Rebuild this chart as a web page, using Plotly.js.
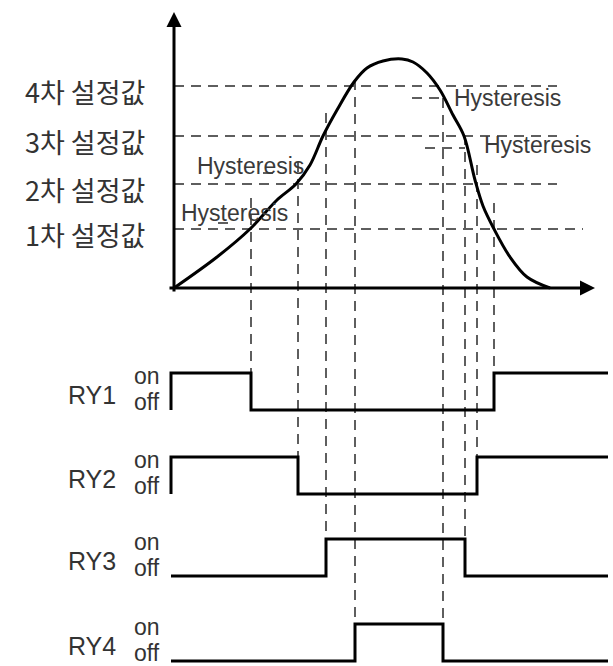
<!DOCTYPE html>
<html>
<head>
<meta charset="utf-8">
<script src="https://cdn.plot.ly/plotly-3.0.1.min.js"></script>
<style>html,body{margin:0;padding:0;background:#fff;}#chart{width:613px;height:666px;}</style>
</head>
<body>
<div id="chart"></div>
<script>
// ---- data (time t, value v) ----
const curveT = [0, 43, 76, 103, 122, 136, 149, 163, 180, 193, 209, 228, 239, 253, 266, 279, 290, 301, 309, 320, 336, 353, 376];
const curveV = [0, 31, 59, 88, 104, 123, 152, 178, 206, 220, 227, 229, 226, 215, 198, 173, 152, 108, 82, 59, 31, 11, 0];

const levelValues = [59, 104, 152, 202];
const levelLabels = ['1차 설정값', '2차 설정값', '3차 설정값', '4차 설정값'];
const levelEndT = [409, 383, 383, 383];

const relayNames = ['RY1', 'RY2', 'RY3', 'RY4'];
const ry1T = [-3, -3, 77, 320, 434];
const ry1S = [0, 1, 0, 1, 1];
const ry2T = [-3, -3, 124, 303, 434];
const ry2S = [0, 1, 0, 1, 1];
const ry3T = [-3, 152, 291, 434];
const ry3S = [0, 1, 0, 0];
const ry4T = [-3, 181, 269, 434];
const ry4S = [0, 1, 0, 0];

// switching guides: time, top value on curve side, relay index they reach
const switchT = [77, 124, 152, 181, 269, 291, 303, 320];
const switchTopV = [90, 126, 175, 208, 190, 153, 123, 85];
const switchRelay = [0, 1, 2, 3, 3, 2, 1, 0];

// hysteresis marks
const hystV = [190, 140, 115, 65];
const hystT0 = [238, 251, 89, 44];
const hystT1 = [272, 291, 102, 56];
const hystLabelT = [278, 308, 21, 5];
const hystLabelV = [190, 143, 122, 75];
const hystText = 'Hysteresis';

// ---- layout constants ----
const rowOn = [-85, -169, -251, -336];
const rowAmp = 37;
const relaysT = [ry1T, ry2T, ry3T, ry4T];
const relaysS = [ry1S, ry2S, ry3S, ry4S];

const dashStyle = {color: '#5e5e5e', width: 2, dash: '10px,7px'};
const traces = [];

levelValues.forEach((v, i) => {
  traces.push({x: [0, levelEndT[i]], y: [v, v], mode: 'lines', line: dashStyle, hoverinfo: 'skip'});
});
hystV.forEach((v, i) => {
  traces.push({x: [hystT0[i], hystT1[i]], y: [v, v], mode: 'lines', line: dashStyle, hoverinfo: 'skip'});
});
switchT.forEach((t, i) => {
  traces.push({x: [t, t], y: [switchTopV[i], rowOn[switchRelay[i]]], mode: 'lines', line: dashStyle, hoverinfo: 'skip'});
});
traces.push({x: curveT, y: curveV, mode: 'lines', line: {color: '#000', width: 3, shape: 'spline', smoothing: 1}, hoverinfo: 'skip'});
relaysT.forEach((ts, k) => {
  traces.push({
    x: ts,
    y: relaysS[k].map(s => rowOn[k] - (1 - s) * rowAmp),
    mode: 'lines', line: {color: '#000', width: 3, shape: 'hv'}, hoverinfo: 'skip'
  });
});

const annotations = [];
annotations.push({x: 0, y: 276, ax: 0, ay: -5, xref: 'x', yref: 'y', axref: 'x', ayref: 'y', text: '', showarrow: true, arrowhead: 2, arrowsize: 1, arrowwidth: 3, arrowcolor: '#000'});
annotations.push({x: 421, y: 0, ax: -6, ay: 0, xref: 'x', yref: 'y', axref: 'x', ayref: 'y', text: '', showarrow: true, arrowhead: 2, arrowsize: 1, arrowwidth: 3, arrowcolor: '#000'});

const kFont = {family: 'Noto Sans CJK KR, Liberation Sans, sans-serif', size: 27, color: '#333'};
levelValues.forEach((v, i) => {
  annotations.push({x: -27, y: v, xref: 'x', yref: 'y', text: levelLabels[i], showarrow: false, xanchor: 'right', yanchor: 'middle', yshift: -5, font: kFont});
});
const hFont = {family: 'Liberation Sans, Arial, sans-serif', size: 23, color: '#3a3a3a'};
hystLabelT.forEach((t, i) => {
  annotations.push({x: t, y: hystLabelV[i], xref: 'x', yref: 'y', text: hystText, showarrow: false, xanchor: 'left', yanchor: 'middle', font: hFont});
});
const rFont = {family: 'Liberation Sans, Arial, sans-serif', size: 25, color: '#333'};
const oFont = {family: 'Liberation Sans, Arial, sans-serif', size: 23, color: '#333'};
relayNames.forEach((n, k) => {
  annotations.push({x: -108, y: rowOn[k] - 22, xref: 'x', yref: 'y', text: n, showarrow: false, xanchor: 'left', yanchor: 'middle', font: rFont});
  annotations.push({x: -42, y: rowOn[k] - 3, xref: 'x', yref: 'y', text: 'on', showarrow: false, xanchor: 'left', yanchor: 'middle', font: oFont});
  annotations.push({x: -42, y: rowOn[k] - 29, xref: 'x', yref: 'y', text: 'off', showarrow: false, xanchor: 'left', yanchor: 'middle', font: oFont});
});

const layout = {
  width: 613, height: 666,
  margin: {l: 0, r: 0, t: 0, b: 0, pad: 0},
  paper_bgcolor: '#fff', plot_bgcolor: '#fff',
  showlegend: false,
  xaxis: {range: [-174, 439], visible: false, fixedrange: true},
  yaxis: {range: [-378, 288], visible: false, fixedrange: true},
  annotations: annotations
};
Plotly.newPlot('chart', traces, layout, {displayModeBar: false, staticPlot: true});
</script>
</body>
</html>
